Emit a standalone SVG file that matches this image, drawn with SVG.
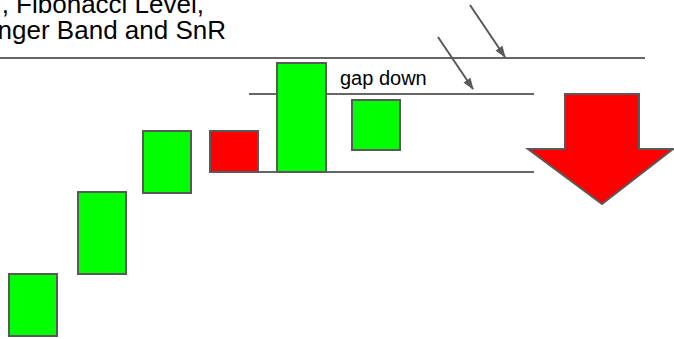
<svg xmlns="http://www.w3.org/2000/svg" width="674" height="339" viewBox="0 0 674 339">
<style>
  .txt { font-family: "Liberation Sans", Arial, sans-serif; fill: #000; }
  .lvl { stroke: #666; stroke-width: 2; fill: none; }
  .green { fill: #00ff00; stroke: #595959; stroke-width: 2; }
  .red { fill: #ff0000; stroke: #595959; stroke-width: 2; }
  .ptr { stroke: #595959; stroke-width: 2; fill: none; marker-end: url(#ah); }
</style>
<defs>
  <marker id="ah" viewBox="0 0 10 10" refX="9" refY="5" markerWidth="6" markerHeight="6" orient="auto" markerUnits="strokeWidth">
    <path d="M0,1.5 L10,5 L0,8.5 Z" fill="#595959"/>
  </marker>
</defs>
<rect width="674" height="339" fill="#fff"/>
<g id="title">
  <text class="txt" x="204" y="12.5" font-size="26" text-anchor="end">, Fibonacci Level,</text>
  <text class="txt" x="226" y="38.5" font-size="26" text-anchor="end">nger Band and SnR</text>
</g>
<g id="levels">
  <line class="lvl" x1="0" y1="58" x2="645" y2="58"/>
  <line class="lvl" x1="249" y1="94" x2="534" y2="94"/>
  <line class="lvl" x1="249" y1="172" x2="534" y2="172"/>
</g>
<g id="candle1"><rect class="green" x="9" y="274" width="48" height="62"/></g>
<g id="candle2"><rect class="green" x="78" y="192" width="48" height="82"/></g>
<g id="candle3"><rect class="green" x="143" y="131" width="48" height="62"/></g>
<g id="candle4"><rect class="red" x="210" y="131" width="48" height="41"/></g>
<g id="candle5"><rect class="green" x="277" y="63" width="49" height="109"/></g>
<g id="candle6"><rect class="green" x="352" y="100" width="48" height="50"/></g>
<g id="gaplabel"><text class="txt" x="340" y="85" font-size="20">gap down</text></g>
<g id="bigarrow">
  <polygon class="red" stroke-width="1.5" points="565,94 639,94 639,149 673,149 602,204 528,149 565,149"/>
</g>
<g id="connectors">
  <line class="ptr" x1="470" y1="5" x2="505" y2="57"/>
  <line class="ptr" x1="438" y1="37" x2="473" y2="89"/>
</g>
</svg>
